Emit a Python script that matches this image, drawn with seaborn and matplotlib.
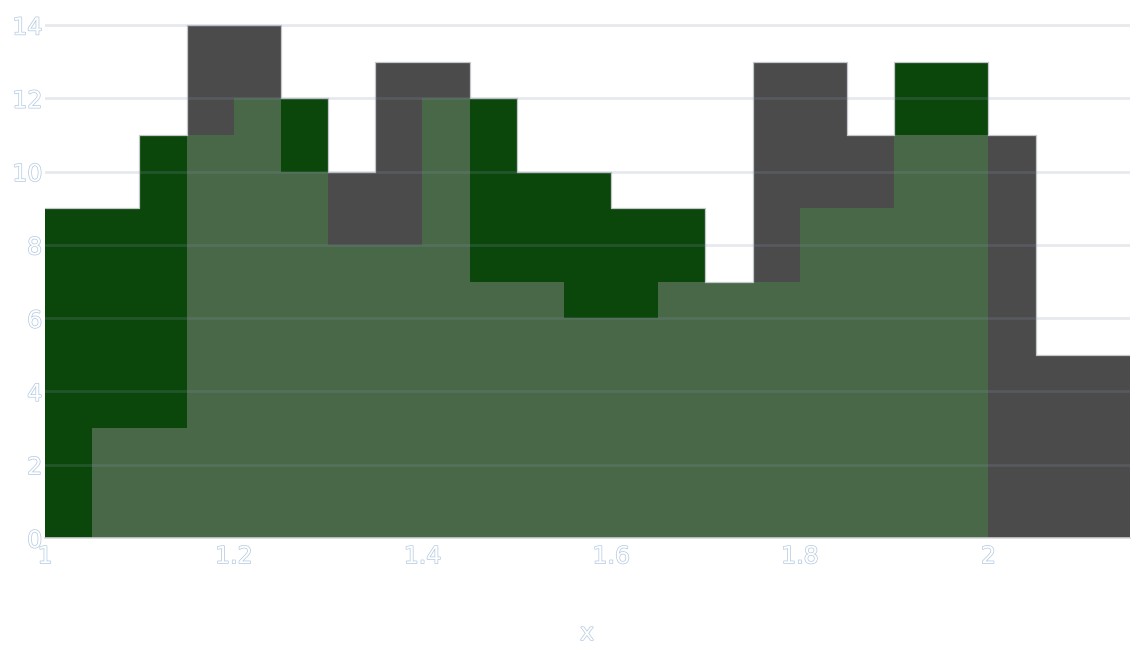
import numpy as np
import pandas as pd
import matplotlib
matplotlib.use("Agg")
import matplotlib.pyplot as plt
import matplotlib.patheffects as pe
import seaborn as sns

# ---- data ----
green_start = 1.0
gray_start = 1.05
bin_width = 0.1
green_counts = [9, 11, 12, 8, 12, 10, 9, 7, 9, 13]
gray_counts = [3, 14, 10, 13, 7, 6, 7, 13, 11, 11, 5]
x_ticks = [1.0, 1.2, 1.4, 1.6, 1.8, 2.0]
x_tick_labels = ["1", "1.2", "1.4", "1.6", "1.8", "2"]
y_ticks = [0, 2, 4, 6, 8, 10, 12, 14]
y_tick_labels = ["0", "2", "4", "6", "8", "10", "12", "14"]
x_label = "x"

# ---- derived bins ----
green_edges = np.round(green_start + bin_width * np.arange(len(green_counts) + 1), 3)
gray_edges = np.round(gray_start + bin_width * np.arange(len(gray_counts) + 1), 3)
green_df = pd.DataFrame({"x": green_edges[:-1] + bin_width / 2, "w": green_counts})
gray_df = pd.DataFrame({"x": gray_edges[:-1] + bin_width / 2, "w": gray_counts})

half = bin_width / 2
fine_edges = np.round(np.arange(green_start, gray_edges[-1] + 1e-9, half), 3)
n_fine = len(fine_edges) - 1
green_fine = np.zeros(n_fine)
gray_fine = np.zeros(n_fine)
k0 = int(round((gray_start - green_start) / half))
green_fine[0:2 * len(green_counts)] = np.repeat(green_counts, 2)
gray_fine[k0:k0 + 2 * len(gray_counts)] = np.repeat(gray_counts, 2)
fine_df = pd.DataFrame({"x": fine_edges[:-1] + half / 2,
                        "lo": np.minimum(green_fine, gray_fine),
                        "hi": np.maximum(green_fine, gray_fine)})

GREEN = "#0b460b"
GRAY = "#4b4b4b"
OVERLAP = "#486848"

sns.set_theme(style="white")
plt.rcParams["font.family"] = ["DejaVu Sans"]

W, H = 1144, 653
fig = plt.figure(figsize=(W / 100, H / 100), dpi=100)
left_px, right_px, bottom_px, top14_px = 45, 1130, 538, 25
ymax = 14.1
unit = (bottom_px - top14_px) / 14.0
top_px = top14_px - (ymax - 14) * unit
ax = fig.add_axes([left_px / W, (H - bottom_px) / H,
                   (right_px - left_px) / W, (bottom_px - top_px) / H])

sns.histplot(data=gray_df, x="x", weights="w", bins=list(gray_edges), ax=ax,
             color=GRAY, alpha=1, linewidth=0, edgecolor="none")
sns.histplot(data=green_df, x="x", weights="w", bins=list(green_edges), ax=ax,
             color=GREEN, alpha=1, linewidth=0, edgecolor="none")
sns.histplot(data=fine_df, x="x", weights="lo", bins=list(fine_edges), ax=ax,
             color=OVERLAP, alpha=1, linewidth=0, edgecolor="none")
sns.histplot(data=fine_df, x="x", weights="hi", bins=list(fine_edges), ax=ax,
             element="step", fill=False, color="#c4c8cc", linewidth=0.9)

ax.set_xlim(green_start, gray_edges[-1])
ax.set_ylim(0, ymax)
ax.set_axisbelow(False)
ax.yaxis.grid(True, color="#8593a8", alpha=0.2, linewidth=2)
ax.xaxis.grid(False)
for s in ["top", "right", "left"]:
    ax.spines[s].set_visible(False)
ax.spines["bottom"].set_color("#d8d8d8")
ax.spines["bottom"].set_linewidth(1.2)

outline = [pe.Stroke(linewidth=1.0, foreground="#b0c8e0"), pe.Normal()]
ax.set_xticks(x_ticks)
ax.set_xticklabels(x_tick_labels)
ax.set_yticks(y_ticks)
ax.set_yticklabels(y_tick_labels)
ax.tick_params(axis="both", length=0, labelsize=17, labelcolor="white")
ax.tick_params(axis="x", pad=4.5)
ax.tick_params(axis="y", pad=2)
for t in ax.get_xticklabels() + ax.get_yticklabels():
    t.set_path_effects(outline)

ax.set_ylabel("")
ax.set_xlabel(x_label, fontsize=17, color="white", va="center")
ax.xaxis.label.set_path_effects(outline)
ax.xaxis.set_label_coords((587 - left_px) / (right_px - left_px),
                          (bottom_px - 633) / (bottom_px - top_px))

fig.savefig("out.png", dpi=100, facecolor="white")
